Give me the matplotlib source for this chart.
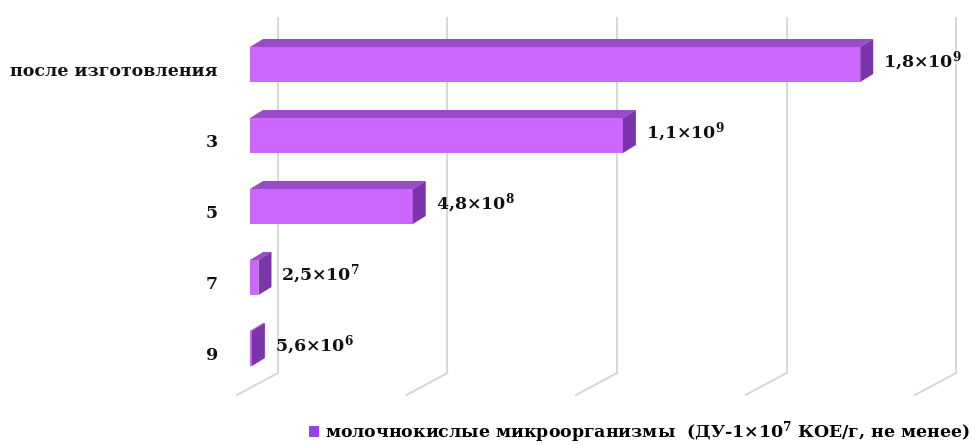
import matplotlib
matplotlib.use("Agg")
import matplotlib.pyplot as plt
from matplotlib.patches import Polygon, Patch
from matplotlib.transforms import ScaledTranslation
import numpy as np

# ---- data ----
categories = ["после изготовления", "3", "5", "7", "9"]
values = [1.8e9, 1.1e9, 4.8e8, 2.5e7, 5.6e6]
value_labels = ["1,8×10$^{9}$", "1,1×10$^{9}$", "4,8×10$^{8}$", "2,5×10$^{7}$", "5,6×10$^{6}$"]
grid_values = [0, 5e8, 1e9, 1.5e9, 2e9]
legend_label = "молочнокислые микроорганизмы  (ДУ-1×10$^{7}$ КОЕ/г, не менее)"

# ---- style ----
FONT = 'DejaVu Serif'
plt.rcParams['font.family'] = [FONT, 'Liberation Serif']
plt.rcParams['font.weight'] = 'bold'
plt.rcParams['mathtext.fontset'] = 'custom'
plt.rcParams['mathtext.rm'] = FONT + ':bold'
plt.rcParams['mathtext.it'] = FONT + ':bold'
plt.rcParams['mathtext.bf'] = FONT + ':bold'
FS = 12.5

FRONT = '#CC66FF'
TOP = '#9A4CC8'
SIDE = '#7A36A8'
GRID = '#D4D4D4'

W, H, DPI = 979, 445, 100
fig = plt.figure(figsize=(W / DPI, H / DPI), dpi=DPI)
ax_left_px, ax_right_px = 250, 979
ax = fig.add_axes([ax_left_px / W, 0, (ax_right_px - ax_left_px) / W, 1])
ax.set_axis_off()

px_per_unit_x = 339 / 1e9          # pixel scale of values
first_center_px, step_px = 64.5, 71.0
xmax = (ax_right_px - ax_left_px) / px_per_unit_x
ax.set_xlim(0, xmax)
ax.set_ylim((H - first_center_px) / step_px, -first_center_px / step_px)

def dx(px):
    return px / px_per_unit_x

def dy(px):
    return px / step_px

y = np.arange(len(categories))
bar_h = dy(35)

# front faces
ax.barh(y, values, height=bar_h, left=0, color=FRONT, edgecolor='none', zorder=3)

# depth faces
bdx, bdy = dx(13), dy(8)
for yi, v in zip(y, values):
    top = yi - bar_h / 2
    bot = yi + bar_h / 2
    ax.add_patch(Polygon([(0, top), (v, top), (v + bdx, top - bdy), (bdx, top - bdy)],
                         closed=True, facecolor=TOP, edgecolor='none', zorder=3))
    ax.add_patch(Polygon([(v, top), (v + bdx, top - bdy), (v + bdx, bot - bdy), (v, bot)],
                         closed=True, facecolor=SIDE, edgecolor='none', zorder=4))

# grid: back wall verticals + floor slants
wall_dx = dx(28)
wall_top = dy(17 - first_center_px)
wall_bot = dy(373 - first_center_px)
floor_front = dy(395 - first_center_px)
floor_dx = dx(-13)
for g in grid_values:
    ax.plot([g + wall_dx, g + wall_dx], [wall_top, wall_bot], color=GRID, lw=1.3,
            zorder=1, clip_on=False, solid_capstyle='butt')
    ax.plot([g + wall_dx, g + floor_dx], [wall_bot, floor_front], color=GRID, lw=1.3,
            zorder=1, clip_on=False)

# value labels
for yi, v, lab in zip(y, values, value_labels):
    ax.text(v + bdx + dx(10), yi - dy(3), lab, ha='left', va='center',
            fontsize=FS, fontweight='bold', color='#111111', zorder=5)

# category labels
off = ScaledTranslation(0, -7 / DPI, fig.dpi_scale_trans)
for yi, c in zip(y, categories):
    ax.text(-dx(32), yi, c, ha='right', va='center', fontsize=FS, fontweight='bold',
            color='#111111', transform=ax.transData + off, clip_on=False)

# legend
handle = Patch(facecolor='#9B3FE6', edgecolor='none')
fig.legend([handle], [legend_label], loc='center left', bbox_to_anchor=(309 / W, 1 - 432 / H),
           frameon=False, fontsize=FS, handlelength=0.6, handleheight=0.6,
           handletextpad=0.3, borderpad=0, borderaxespad=0)

fig.savefig('out.png', dpi=DPI)
